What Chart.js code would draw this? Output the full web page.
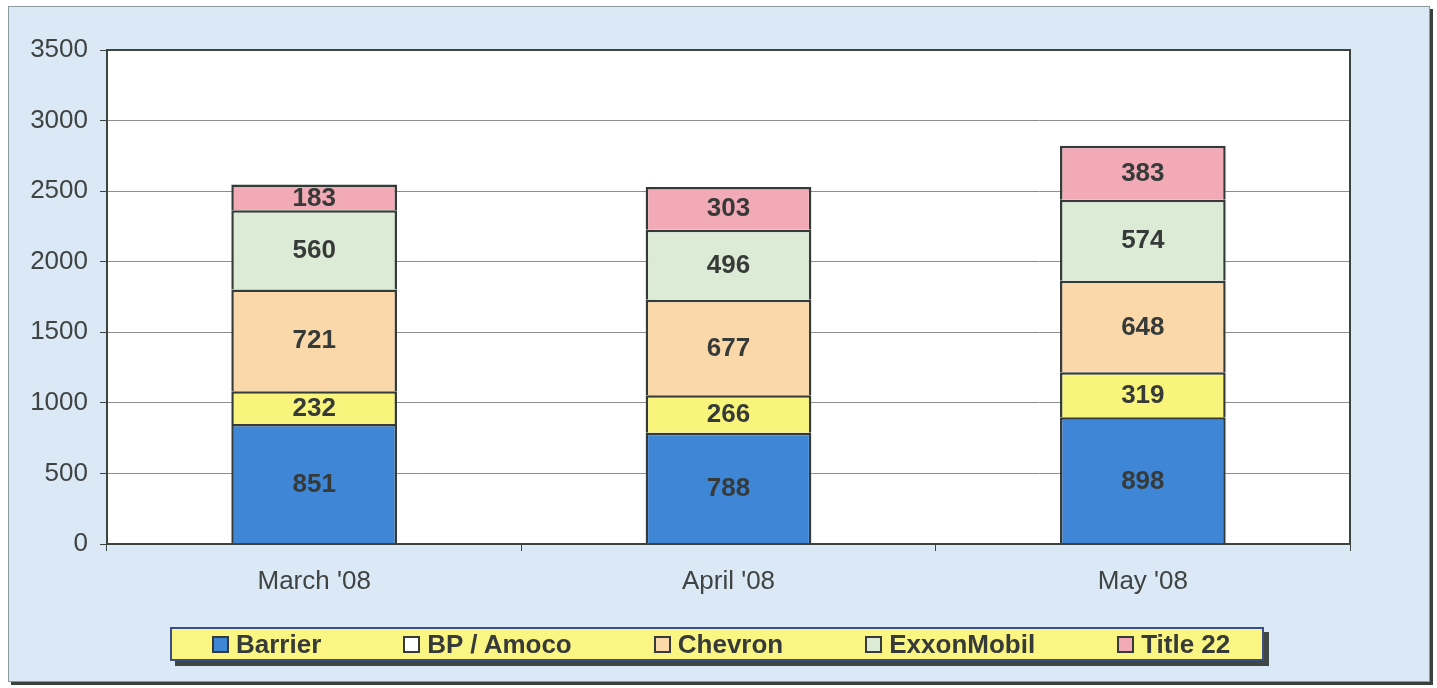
<!DOCTYPE html>
<html>
<head>
<meta charset="utf-8">
<script src="https://cdn.jsdelivr.net/npm/chart.js@4"></script>
<style>
    body { margin: 0; background: #ffffff; width: 1437px; height: 688px; overflow: hidden; position: relative; font-family: Arial, "Liberation Sans", sans-serif; }
    #frame { position: absolute; left: 8px; top: 6px; width: 1420px; height: 674px; background: #dbe8f6; border: 1px solid #8a9a9a; box-shadow: 3px 3px 0 #39413d; }
    #wrap { position: absolute; left: 0; top: 0; width: 1437px; height: 688px; }
    #legend { position: absolute; left: 170px; top: 627px; width: 1094px; height: 34px; background: #fbf684; border: 2px solid #3b4f86; box-shadow: 5px 5px 0 #3e4744; display: flex; align-items: center; padding-left: 40px; box-sizing: border-box; gap: 82px; }
    .item { display: flex; align-items: center; font-weight: bold; font-size: 26px; color: #363a38; white-space: nowrap; }
    .sw { width: 17px; height: 17px; border: 2px solid #363a38; margin-right: 7px; box-sizing: border-box; }
</style>
</head>
<body>
<div id="frame"></div>
<div id="wrap"><canvas id="chart" width="1437" height="688"></canvas></div>
<div id="legend"></div>
<script>
// Chart data
const months = ["March '08", "April '08", "May '08"];
const seriesNames = ['Barrier', 'BP / Amoco', 'Chevron', 'ExxonMobil', 'Title 22'];
const barrier = [851, 788, 898];
const bpAmoco = [232, 266, 319];
const chevron = [721, 677, 648];
const exxonMobil = [560, 496, 574];
const title22 = [183, 303, 383];

const barColors = ['#3f86d6', '#f9f57c', '#fbd8a9', '#dcebd6', '#f2aab6'];
// legend swatch for BP / Amoco shows white in the original
const swatchColors = ['#3f86d6', '#ffffff', '#fbd8a9', '#dcebd6', '#f2aab6'];
const seriesValues = [barrier, bpAmoco, chevron, exxonMobil, title22];

// White plot area and its border
const plotBorder = {
    id: 'plotBorder',
    beforeDraw(chart) {
        const a = chart.chartArea;
        const ctx = chart.ctx;
        ctx.save();
        ctx.fillStyle = '#ffffff';
        ctx.fillRect(a.left, a.top, a.right - a.left, a.bottom - a.top);
        ctx.restore();
    },
    afterDraw(chart) {
        const a = chart.chartArea;
        const ctx = chart.ctx;
        ctx.save();
        ctx.strokeStyle = '#3d4440';
        ctx.lineWidth = 2;
        ctx.strokeRect(a.left, a.top, a.right - a.left, a.bottom - a.top);
        ctx.restore();
    }
};

// Value labels in the middle of each segment
const valueLabels = {
    id: 'valueLabels',
    afterDatasetsDraw(chart) {
        const ctx = chart.ctx;
        ctx.save();
        ctx.font = 'bold 26px Arial, "Liberation Sans", sans-serif';
        ctx.fillStyle = '#363a38';
        ctx.textAlign = 'center';
        ctx.textBaseline = 'middle';
        chart.data.datasets.forEach((ds, i) => {
            chart.getDatasetMeta(i).data.forEach((bar, j) => {
                const y = (bar.y + bar.base) / 2;
                ctx.fillText(String(ds.data[j]), bar.x, y + 1);
            });
        });
        ctx.restore();
    }
};

const ctx = document.getElementById('chart');
new Chart(ctx, {
    type: 'bar',
    data: {
        labels: months,
        datasets: seriesNames.map((name, i) => ({
            label: name,
            data: seriesValues[i],
            backgroundColor: barColors[i],
            borderColor: '#353b38',
            borderWidth: { top: 2.5, left: 2.5, right: 2.5, bottom: 0 },
            borderSkipped: false,
            categoryPercentage: 1,
            barPercentage: 0.4
        }))
    },
    options: {
        responsive: false,
        animation: false,
        layout: {
            padding: { left: 0, top: 50, right: 87, bottom: 0 }
        },
        plugins: {
            legend: { display: false },
            tooltip: { enabled: false }
        },
        scales: {
            x: {
                stacked: true,
                grid: {
                    display: true,
                    drawOnChartArea: false,
                    offset: true,
                    color: '#3d4440',
                    tickLength: 7,
                    tickWidth: 1
                },
                border: { color: '#3d4440', width: 2 },
                ticks: {
                    color: '#3f4442',
                    font: { family: 'Arial, "Liberation Sans", sans-serif', size: 26 },
                    padding: 15
                },
                afterFit(scale) { scale.height = 144; }
            },
            y: {
                stacked: true,
                min: 0,
                max: 3500,
                ticks: {
                    stepSize: 500,
                    color: '#3f4442',
                    font: { family: 'Arial, "Liberation Sans", sans-serif', size: 26 },
                    padding: 12,
                    callback: (v) => String(v)
                },
                grid: {
                    color: '#8c8f8d',
                    lineWidth: 1,
                    tickLength: 7,
                    tickColor: '#3d4440'
                },
                border: { color: '#3d4440', width: 2 },
                afterFit(scale) { scale.width = 107; }
            }
        }
    },
    plugins: [plotBorder, valueLabels]
});

// HTML legend built from the series arrays
const legend = document.getElementById('legend');
seriesNames.forEach((name, i) => {
    const item = document.createElement('div');
    item.className = 'item';
    item.innerHTML = '<span class="sw" style="background:' + swatchColors[i] + '"></span>' + name;
    legend.appendChild(item);
});
</script>
</body>
</html>
